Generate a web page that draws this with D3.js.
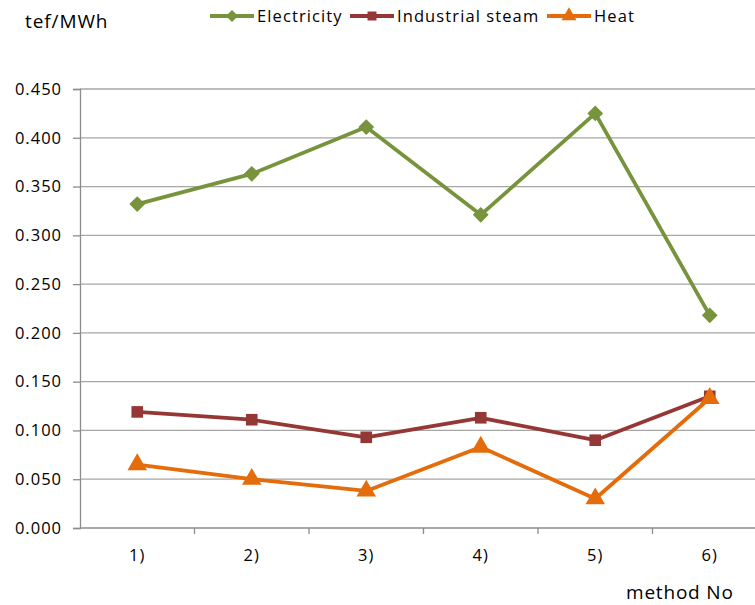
<!DOCTYPE html>
<html><head><meta charset="utf-8">
<script src="https://cdn.jsdelivr.net/npm/d3@7"></script>
<style>body{margin:0;background:#fff}svg{display:block}text{font-family:"Open Sans",sans-serif;fill:#000}</style>
</head><body>
<script>
const categories = ["1)", "2)", "3)", "4)", "5)", "6)"];
const electricity = [0.332, 0.363, 0.411, 0.321, 0.425, 0.218];
const industrialSteam = [0.119, 0.111, 0.093, 0.113, 0.090, 0.135];
const heat = [0.065, 0.050, 0.038, 0.083, 0.030, 0.133];
const yTicks = [0, 0.05, 0.1, 0.15, 0.2, 0.25, 0.3, 0.35, 0.4, 0.45];
const seriesNames = ["Electricity", "Industrial steam", "Heat"];

const W = 755, H = 605;
const svg = d3.select("body").append("svg").attr("width", W).attr("height", H);
const mLeft = 80, mTop = 89, mBottom = 528, bandW = 114.5;
const x = d3.scaleBand().domain(categories).range([mLeft, mLeft + bandW * 6]);
const y = d3.scaleLinear().domain([0, 0.45]).range([mBottom, mTop]);
const fontTick = "16.5px", spTick = "1px";

// gridlines
svg.append("g").selectAll("line").data(yTicks.filter(d => d > 0)).join("line")
  .attr("x1", mLeft).attr("x2", W).attr("y1", d => y(d)).attr("y2", d => y(d))
  .attr("stroke", "#a6a6a6").attr("stroke-width", 1.3);

// y axis
const ya = svg.append("g").attr("transform", `translate(${mLeft},0)`)
  .call(d3.axisLeft(y).tickValues(yTicks).tickFormat(d3.format(".3f")).tickSize(7).tickPadding(11));
ya.select(".domain").attr("stroke", "#8c8c8c").attr("stroke-width", 1.3);
ya.selectAll(".tick line").attr("stroke", "#8c8c8c").attr("stroke-width", 1.3);
ya.selectAll("text").style("font-size", fontTick).style("letter-spacing", spTick)
  .style("font-family", "'Open Sans',sans-serif").attr("fill", "#000");

// x axis
const xa = svg.append("g").attr("transform", `translate(0,${mBottom})`);
xa.append("line").attr("x1", mLeft).attr("x2", W).attr("stroke", "#8c8c8c").attr("stroke-width", 1.3);
xa.selectAll("line.t").data(categories.slice(1)).join("line").attr("class", "t")
  .attr("x1", d => x(d)).attr("x2", d => x(d)).attr("y1", 0).attr("y2", 6)
  .attr("stroke", "#8c8c8c").attr("stroke-width", 1.3);
xa.selectAll("text").data(categories).join("text")
  .attr("x", d => x(d) + x.bandwidth() / 2).attr("y", 33)
  .attr("text-anchor", "middle").style("font-size", fontTick).style("letter-spacing", spTick).text(d => d);

const series = [
  {name: seriesNames[0], values: electricity, color: "#77933c", sym: d3.symbolSquare, size: 125, rot: 45},
  {name: seriesNames[1], values: industrialSteam, color: "#953735", sym: d3.symbolSquare, size: 135, rot: 0},
  {name: seriesNames[2], values: heat, color: "#e46c0a", sym: d3.symbolTriangle, size: 165, rot: 0}
];
const line = d3.line().x((d, i) => x(categories[i]) + x.bandwidth() / 2).y(d => y(d));
series.forEach(s => {
  svg.append("path").datum(s.values).attr("d", line).attr("fill", "none")
    .attr("stroke", s.color).attr("stroke-width", 3.8).attr("stroke-linejoin", "round");
  svg.append("g").selectAll("path").data(s.values).join("path")
    .attr("transform", (d, i) => `translate(${x(categories[i]) + x.bandwidth() / 2},${y(d)}) rotate(${s.rot})`)
    .attr("d", d3.symbol().type(s.sym).size(s.size)).attr("fill", s.color);
});

// legend
const legX = [210, 350, 547];
series.forEach((s, i) => {
  const g = svg.append("g").attr("transform", `translate(${legX[i]},16)`);
  g.append("line").attr("x1", 0).attr("x2", 44).attr("stroke", s.color).attr("stroke-width", 3.8);
  g.append("path").attr("transform", `translate(22,0) rotate(${s.rot})`).attr("d", d3.symbol().type(s.sym).size(s.size * 0.6)).attr("fill", s.color);
  g.append("text").attr("x", 47).attr("y", 6).style("font-size", fontTick).style("letter-spacing", "1.1px").text(s.name);
});

svg.append("text").attr("x", 25).attr("y", 28).style("font-size", "19px").style("letter-spacing", "0.9px").text("tef/MWh");
svg.append("text").attr("x", 626).attr("y", 599).style("font-size", "19px").style("letter-spacing", "0.8px").text("method No");
</script>
</body></html>
